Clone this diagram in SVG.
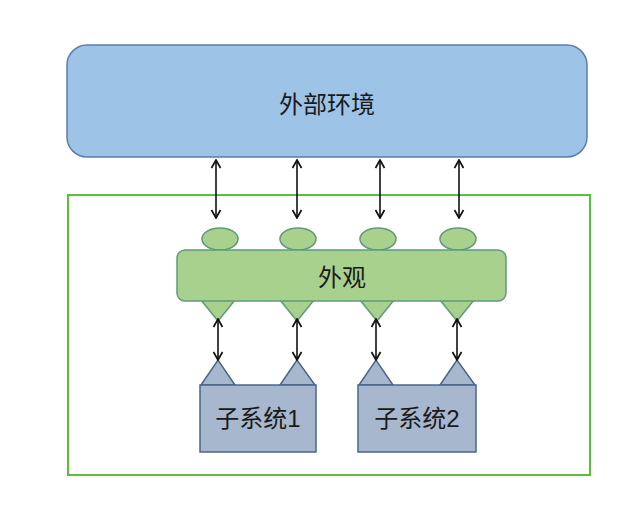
<svg xmlns="http://www.w3.org/2000/svg" width="640" height="508" viewBox="0 0 640 508">
<style>
text{font-family:"Liberation Sans","Noto Sans CJK SC",sans-serif;fill:#1a1a1a;text-anchor:middle;dominant-baseline:central}
.g{fill:#a9d18e;stroke:#5f9a78;stroke-width:1.5}
.b{fill:#a7b7cd;stroke:#4a6688;stroke-width:1.5}
.c{stroke:#111;stroke-width:1.6;fill:none;marker-start:url(#a);marker-end:url(#a)}
</style>
<defs>
<marker id="a" viewBox="0 0 12 12" refX="11" refY="6" markerWidth="12" markerHeight="12" orient="auto-start-reverse" markerUnits="userSpaceOnUse">
<polyline points="3,1.5 11,6 3,10.5" fill="none" stroke="#111" stroke-width="1.7"/>
</marker>
</defs>
<rect width="640" height="508" fill="#fff"/>
<g id="env">
<rect x="67" y="45" width="520" height="112" rx="20" fill="#9dc3e6" stroke="#5b7fa8" stroke-width="1.5"/>
<text x="327" y="104" font-size="24">外部环境</text>
</g>
<g id="container">
<rect x="68" y="195" width="522" height="280" fill="none" stroke="#5cbf3c" stroke-width="2"/>
</g>
<g id="facade">
<ellipse class="g" cx="220" cy="239" rx="18" ry="11"/>
<ellipse class="g" cx="298" cy="239" rx="18" ry="11"/>
<ellipse class="g" cx="378" cy="239" rx="18" ry="11"/>
<ellipse class="g" cx="458" cy="239" rx="18" ry="11"/>
<path class="g" d="M201,300 L218,321 L235,300 Z"/>
<path class="g" d="M280,300 L297,321 L314,300 Z"/>
<path class="g" d="M360,300 L377,321 L394,300 Z"/>
<path class="g" d="M440,300 L457,321 L474,300 Z"/>
<rect class="g" x="177" y="250" width="329" height="51" rx="8"/>
<text x="342" y="277" font-size="24">外观</text>
</g>
<g id="sub1">
<path class="b" d="M201,385 L218,360 L235,385 Z"/>
<path class="b" d="M280,385 L297,360 L315,385 Z"/>
<rect class="b" x="200" y="385" width="116" height="67"/>
<text x="258" y="418" font-size="24">子系统1</text>
</g>
<g id="sub2">
<path class="b" d="M359,385 L376,360 L393,385 Z"/>
<path class="b" d="M440,385 L457,360 L475,385 Z"/>
<rect class="b" x="358" y="385" width="118" height="67"/>
<text x="417" y="418" font-size="24">子系统2</text>
</g>
<g id="connectors">
<line class="c" x1="216" y1="160" x2="216" y2="218"/>
<line class="c" x1="297" y1="160" x2="297" y2="218"/>
<line class="c" x1="380" y1="160" x2="380" y2="218"/>
<line class="c" x1="459" y1="160" x2="459" y2="218"/>
<line class="c" x1="218" y1="319" x2="218" y2="360"/>
<line class="c" x1="297" y1="319" x2="297" y2="360"/>
<line class="c" x1="376" y1="319" x2="376" y2="360"/>
<line class="c" x1="457" y1="319" x2="457" y2="360"/>
</g>
</svg>
